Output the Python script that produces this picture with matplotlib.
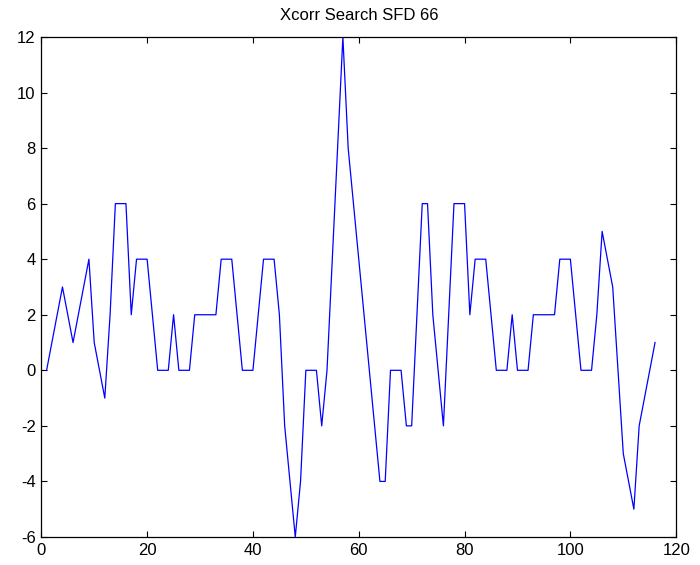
import matplotlib
matplotlib.use("Agg")
import matplotlib.pyplot as plt

plt.rcParams['font.family'] = ['Liberation Sans', 'DejaVu Sans']
plt.rcParams['axes.unicode_minus'] = False

x_values = list(range(1, 117))
xcorr = [0, 1, 2, 3, 2, 1, 2, 3, 4, 1,
         0, -1, 2, 6, 6, 6, 2, 4, 4, 4,
         2, 0, 0, 0, 2, 0, 0, 0, 2, 2,
         2, 2, 2, 4, 4, 4, 2, 0, 0, 0,
         2, 4, 4, 4, 2, -2, -4, -6, -4, 0,
         0, 0, -2, 0, 4, 8, 12, 8, 6, 4,
         2, 0, -2, -4, -4, 0, 0, 0, -2, -2,
         2, 6, 6, 2, 0, -2, 2, 6, 6, 6,
         2, 4, 4, 4, 2, 0, 0, 0, 2, 0,
         0, 0, 2, 2, 2, 2, 2, 4, 4, 4,
         2, 0, 0, 0, 2, 5, 4, 3, 0, -3,
         -4, -5, -2, -1, 0, 1]
x_ticks = [0, 20, 40, 60, 80, 100, 120]
y_ticks = [-6, -4, -2, 0, 2, 4, 6, 8, 10, 12]
title = "Xcorr Search SFD 66"

fig = plt.figure(figsize=(7.0, 5.65), dpi=100)
ax = fig.add_axes([0.059, 0.0496, 0.907, 0.885])
ax.plot(x_values, xcorr, color='#0000ff', linewidth=0.9)
ax.set_xlim(0, 120)
ax.set_ylim(-6, 12)
ax.set_xticks(x_ticks)
ax.set_yticks(y_ticks)
ax.tick_params(direction='in', top=True, right=True, length=4, width=0.8,
               labelsize=12, pad=4)
for s in ax.spines.values():
    s.set_linewidth(0.9)
ax.set_title(title, fontsize=12, pad=12)
fig.savefig("out.png", dpi=100, facecolor='white')
